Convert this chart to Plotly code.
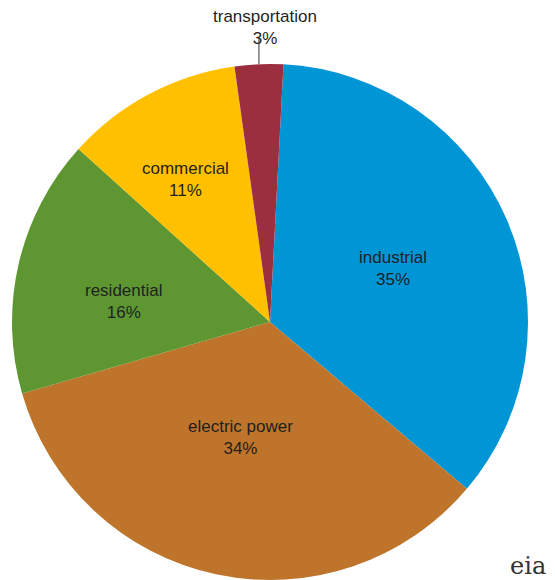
import math
import plotly.graph_objects as go

sectors = ["industrial", "electric power", "residential", "commercial", "transportation"]
shares = [35, 34, 16, 11, 3]
colors = ["#0096D6", "#BE742A", "#5E9732", "#FFC000", "#9C2F3F"]
label_radius = [0.52, 0.464, 0.57, 0.64]   # fraction of pie radius for inside labels
label_turn = [0, 2.4, -5, -2.7]            # small angular nudge of inside labels (deg)
rotation = 3

W, H = 555, 580
ml, mr, mt, mb = 4, 35, 56, 8
FONT = dict(family="Liberation Sans, Arial", size=17, color="#1f1f1f")

fig = go.Figure(go.Pie(
    labels=sectors,
    values=shares,
    sort=False,
    direction="clockwise",
    rotation=rotation,
    marker=dict(colors=colors, line=dict(width=0)),
    textinfo="none",
    showlegend=False,
    hoverinfo="label+value",
))

total = sum(shares)
start = rotation
mids = []
for v in shares:
    span = 360 * v / total
    mids.append(start + span / 2)
    start += span

def polar(angle_deg, frac):
    a = math.radians(angle_deg)
    return 0.5 + 0.5 * frac * math.sin(a), 0.5 + 0.5 * frac * math.cos(a)

for name, v, m, f, t in zip(sectors[:4], shares[:4], mids[:4], label_radius, label_turn):
    x, y = polar(m + t, f)
    fig.add_annotation(text=f"{name}<br>{v}%", x=x, y=y, xref="paper", yref="paper",
                       xanchor="center", yanchor="middle",
                       showarrow=False, font=FONT)

# outside label for the small last slice, with a leader line
px, py = polar(mids[-1] - 360, 1.0)
fig.add_shape(type="line", xref="paper", yref="paper",
              x0=px, y0=py, x1=px, y1=py + 26 / 516,
              line=dict(color="#333333", width=1))
fig.add_annotation(text=f"{sectors[-1]}<br>{shares[-1]}%", x=px, y=1.0,
                   xref="paper", yref="paper", xanchor="center", yanchor="middle",
                   xshift=6, yshift=37,
                   showarrow=False, font=FONT)

fig.add_annotation(text="eia", x=1.0, y=0.0, xref="paper", yref="paper",
                   xanchor="right", yanchor="bottom", showarrow=False,
                   xshift=20, yshift=-2,
                   font=dict(family="DejaVu Serif, serif", size=24, color="#333333"))

fig.update_layout(
    width=W, height=H,
    margin=dict(l=ml, r=mr, t=mt, b=mb),
    paper_bgcolor="white",
    plot_bgcolor="white",
)
fig.write_html("out.html")
